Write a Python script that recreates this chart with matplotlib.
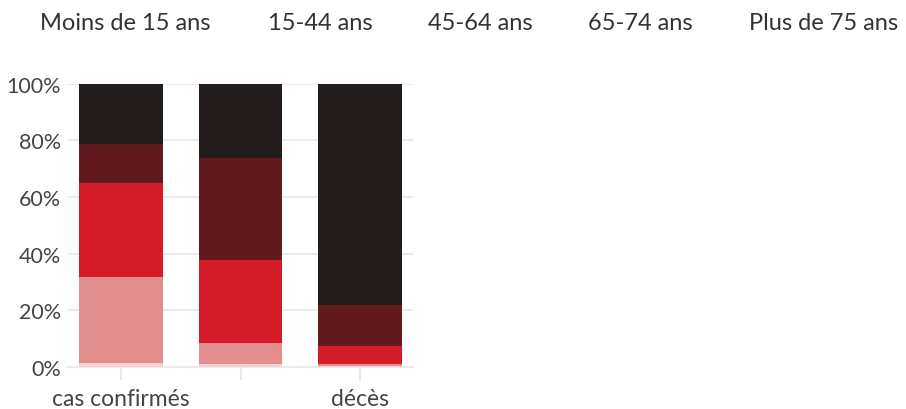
import numpy as np
import matplotlib.pyplot as plt

plt.rcParams['font.family'] = ['Lato', 'DejaVu Sans']

# data
groups = ['cas confirmés', 'hospitalisations', 'décès']
ages = ['Moins de 15 ans', '15-44 ans', '45-64 ans', '65-74 ans', 'Plus de 75 ans']
moins15 = [1.3, 1.1, 0.2]
a15_44 = [30.5, 7.4, 0.8]
a45_64 = [33.1, 29.4, 6.4]
a65_74 = [13.9, 35.9, 14.6]
plus75 = [21.2, 26.2, 78.0]
colors = ['#f6d0d0', '#e28e8f', '#d41c28', '#611b1f', '#221c1c']

series = [moins15, a15_44, a45_64, a65_74, plus75]

fig = plt.figure(figsize=(9.06, 4.1), dpi=100)
ax = fig.add_axes([0.075, 0.103, 0.381, 0.69])

x = np.arange(len(groups))
bottom = np.zeros(len(groups))
for vals, c in zip(series, colors):
    ax.bar(x, vals, bottom=bottom, width=0.7, color=c, zorder=2)
    bottom += np.array(vals)

ax.set_xlim(-0.44, 2.44)
ax.set_ylim(0, 100)
ax.set_yticks([0, 20, 40, 60, 80, 100])
ax.set_yticklabels(['0%', '20%', '40%', '60%', '80%', '100%'])
ax.set_xticks(x)
# middle label hidden in the original
ax.set_xticklabels(['cas confirmés', '', 'décès'])
ax.grid(axis='y', color='#ebebeb', lw=1.5, zorder=0)
for s in ax.spines.values():
    s.set_visible(False)
ax.tick_params(axis='y', length=0, labelsize=15.5, labelcolor='#444444', pad=5)
ax.tick_params(axis='x', length=9, width=1.2, color='#e5e5e5', labelsize=16.5,
               labelcolor='#444444', pad=6)
ax.axhline(0, color='#ebebeb', lw=1.5, zorder=1, clip_on=False)

# legend as plain text
lx = [40, 268, 428, 588, 749]
for name, px in zip(ages, lx):
    fig.text(px / 906, 1 - 23 / 410, name, fontsize=17, color='#333333',
             ha='left', va='center')

plt.savefig('out.png', dpi=100)
